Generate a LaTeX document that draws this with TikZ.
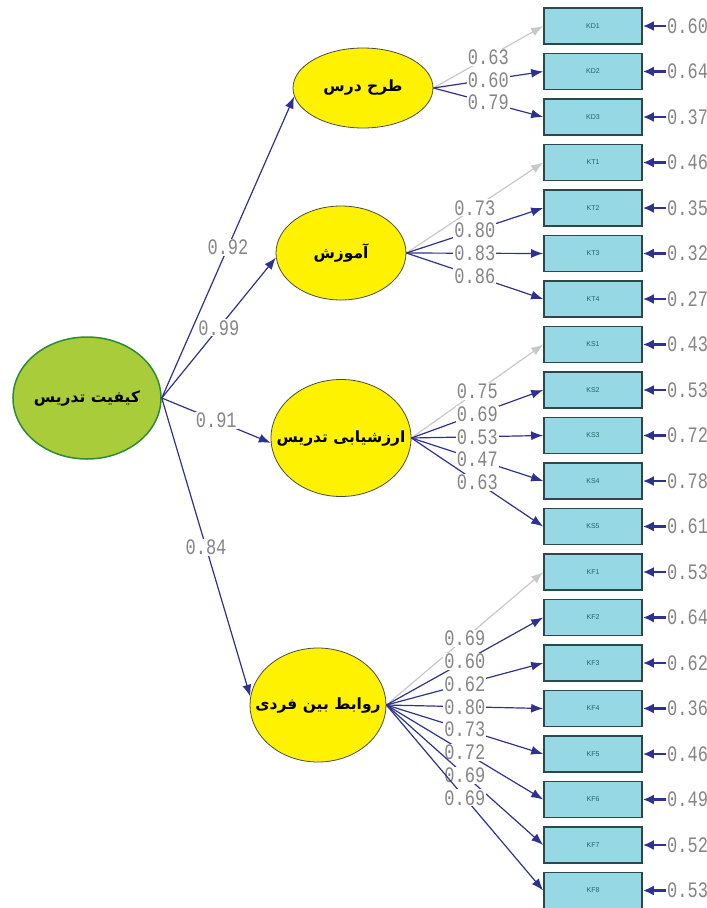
\documentclass[tikz,border=0pt]{standalone}
\usepackage{fontspec}
\usepackage{graphicx}
\usetikzlibrary{shapes.geometric,arrows.meta}
\TeXXeTstate=1
\setmainfont{Liberation Sans}
\newfontfamily\fa[Script=Arabic]{DejaVu Sans}
\newfontfamily\labfont{Liberation Mono}
\definecolor{navy}{HTML}{2E3192}
\definecolor{lightarr}{HTML}{C8C8C8}
\definecolor{labgray}{HTML}{858585}
\definecolor{latyellow}{HTML}{FFF200}
\definecolor{maingreen}{HTML}{A8CC3A}
\definecolor{mainedge}{HTML}{2F8A35}
\definecolor{latedge}{HTML}{4A4A4A}
\definecolor{boxfill}{HTML}{96D8E4}
\definecolor{boxedge}{HTML}{2C4848}
\definecolor{boxtext}{HTML}{1F6666}
\newcommand\lv[1]{\scalebox{1}[1.3]{#1}}
\begin{document}
\begin{tikzpicture}[x=1pt,y=-1pt,
  latent/.style={ellipse, draw=latedge, line width=0.8pt, fill=latyellow, inner sep=0pt,
    font=\fa\bfseries\fontsize{15.5}{18}\selectfont, text=black},
  mainlat/.style={latent, fill=maingreen, draw=mainedge, line width=1.5pt},
  obs/.style={draw=boxedge, line width=1.6pt, fill=boxfill, minimum width=98pt, minimum height=36pt,
    inner sep=0pt, font=\fontsize{7}{7}\selectfont, text=boxtext},
  lab/.style={font=\labfont\fontsize{17}{17}\selectfont, text=labgray, fill=white, inner sep=1pt},
  err/.style={font=\labfont\fontsize{17}{17}\selectfont, text=labgray, anchor=west, inner sep=1pt},
  na/.style={draw=navy, line width=1.2pt, -{Latex[length=12pt,width=9pt]}},
  ga/.style={draw=lightarr, line width=1.2pt, -{Latex[length=12pt,width=9pt]}},
  erra/.style={draw=navy, line width=2.2pt, -{Latex[length=11pt,width=10pt]}}
]
\useasboundingbox (0,0) rectangle (707,908);

% latent variables
\node[mainlat, minimum width=148pt, minimum height=122pt] (main) at (87,398) {\makebox[0pt]{\beginR کیفیت تدریس\endR}};
\node[latent, minimum width=140pt, minimum height=80pt] (tarh) at (363,88) {\makebox[0pt]{\beginR طرح درس\endR}};
\node[latent, minimum width=130pt, minimum height=94pt] (amuz) at (341,253) {\makebox[0pt]{\beginR آموزش\endR}};
\node[latent, minimum width=140pt, minimum height=117pt] (arz) at (341,438) {\makebox[0pt]{\beginR ارزشیابی تدریس\endR}};
\node[latent, minimum width=136pt, minimum height=114pt] (rav) at (318,705) {\makebox[0pt]{\beginR روابط بین فردی\endR}};

% observed variables with error terms
\foreach \n/\e [count=\i from 0] in {KD1/0.60,KD2/0.64,KD3/0.37,KT1/0.46,KT2/0.35,KT3/0.32,KT4/0.27,
  KS1/0.43,KS2/0.53,KS3/0.72,KS4/0.78,KS5/0.61,KF1/0.53,KF2/0.64,KF3/0.62,KF4/0.36,KF5/0.46,KF6/0.49,KF7/0.52,KF8/0.53}{
  \node[obs] (\n) at (593,{26+45.5*\i}) {\n};
  \node[err] (e\n) at (666,{26+45.5*\i}) {\lv{\e}};
  \draw[erra] (e\n.west) -- (\n.east);
}

% second-order loadings
\draw[na] (main.east) -- node[lab]{\lv{0.92}} (tarh.187);
\draw[na] (main.east) -- node[lab]{\lv{0.99}} (amuz.184);
\draw[na] (main.east) -- node[lab]{\lv{0.91}} (arz.184);
\draw[na] (main.east) -- node[lab]{\lv{0.84}} (rav.173);

% first-order loadings
\foreach \b/\v/\s in {KD1/0.63/ga,KD2/0.60/na,KD3/0.79/na}
  \draw[\s] (tarh.east) -- node[lab]{\lv{\v}} (\b.west);
\foreach \b/\v/\s in {KT1/0.73/ga,KT2/0.80/na,KT3/0.83/na,KT4/0.86/na}
  \draw[\s] (amuz.east) -- node[lab]{\lv{\v}} (\b.west);
\foreach \b/\v/\s in {KS1/0.75/ga,KS2/0.69/na,KS3/0.53/na,KS4/0.47/na,KS5/0.63/na}
  \draw[\s] (arz.east) -- node[lab]{\lv{\v}} (\b.west);
\foreach \b/\v/\s in {KF1/0.69/ga,KF2/0.60/na,KF3/0.62/na,KF4/0.80/na,KF5/0.73/na,KF6/0.72/na,KF7/0.69/na,KF8/0.69/na}
  \draw[\s] (rav.east) -- node[lab]{\lv{\v}} (\b.west);
\end{tikzpicture}
\end{document}
